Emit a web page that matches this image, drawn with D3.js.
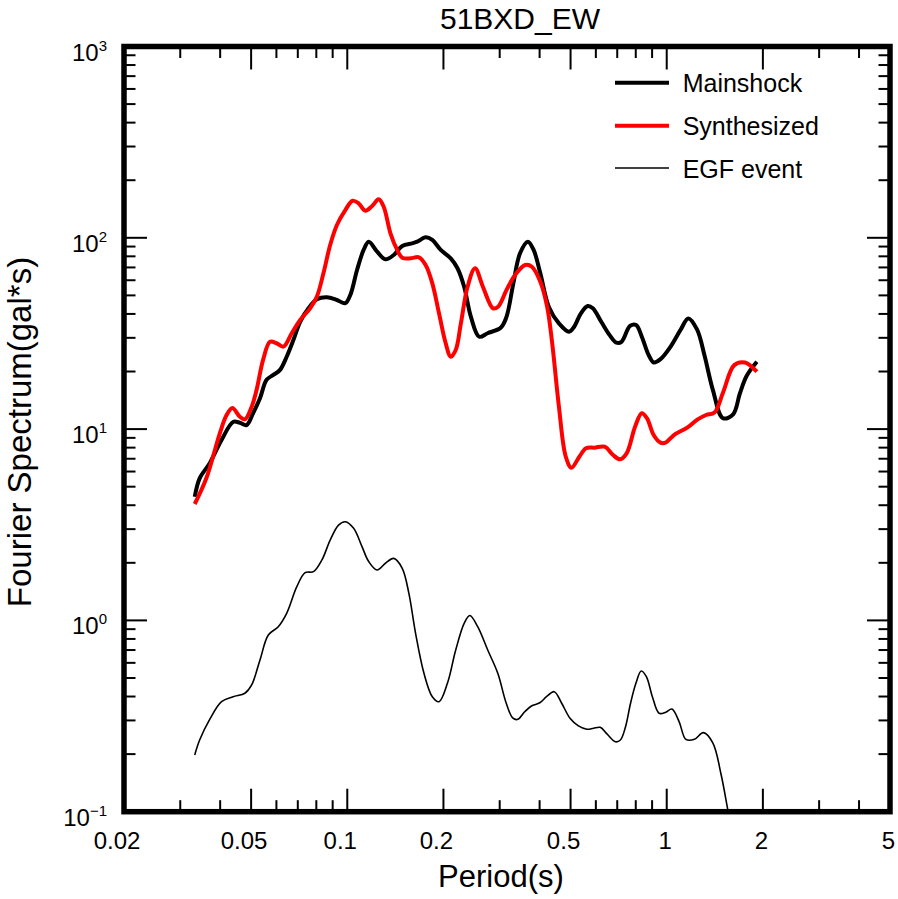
<!DOCTYPE html>
<html>
<head>
<meta charset="utf-8">
<script src="https://cdn.jsdelivr.net/npm/d3@7"></script>
<style>
  html, body { margin: 0; padding: 0; background: #fff; }
  svg text { font-family: "Liberation Sans", Arial, Helvetica, sans-serif; fill: #000; }
</style>
</head>
<body>
<svg id="chart" width="898" height="899"></svg>
<script>
// ---- Data (period in s, amplitude in gal*s) ----
const chartTitle = "51BXD_EW";
const xTickValues = [0.02, 0.05, 0.1, 0.2, 0.5, 1, 2, 5];
const xTickLabels = ["0.02", "0.05", "0.1", "0.2", "0.5", "1", "2", "5"];
const yTickExponents = [-1, 0, 1, 2, 3];
const seriesNames = ["Mainshock", "Synthesized", "EGF event"];

const mainPeriod = [0.0333,0.0345,0.0371,0.0404,0.0439,0.0461,0.0484,0.0507,0.0533,0.0559,0.0587,0.0616,0.0646,0.0678,0.0712,0.0756,0.0803,0.0863,0.0928,0.0986,0.1022,0.1073,0.1125,0.1167,0.124,0.1317,0.1398,0.1486,0.1597,0.1656,0.1759,0.1846,0.1961,0.2108,0.2213,0.2322,0.2437,0.2588,0.275,0.3028,0.3152,0.331,0.3474,0.3676,0.3831,0.4021,0.4273,0.4598,0.4947,0.5132,0.5387,0.566,0.5871,0.6237,0.6627,0.6962,0.722,0.7676,0.802,0.8356,0.8777,0.9101,0.9561,1.0287,1.107,1.168,1.244,1.312,1.395,1.5,1.614,1.695,1.78,1.915];
const mainValue = [4.43,5.53,6.63,8.77,10.9,10.8,10.5,12.1,14.5,18.1,19.2,20.4,23.9,29.2,36.4,42.8,47.7,48.9,47.3,45.5,50.2,67.9,86.4,95.4,84.6,77.2,81.3,90.6,93.6,95.4,100.6,97.4,86.4,78.1,69.3,55.5,38.7,30.4,31.7,34.0,38.7,57.8,83.0,95.4,86.4,65.2,43.6,35.7,32.3,34.3,40.3,44.0,42.8,36.4,31.0,28.3,28.6,34.6,35.0,30.4,24.4,22.3,23.2,27.0,33.2,37.9,33.2,24.4,16.0,11.4,11.95,15.4,19.0,22.5];

const synPeriod = [0.0333,0.0362,0.0399,0.0419,0.0437,0.0461,0.0478,0.0502,0.052,0.0545,0.0573,0.0601,0.0631,0.067,0.0712,0.0765,0.0803,0.0842,0.0884,0.0928,0.0986,0.1039,0.1085,0.1139,0.1196,0.1254,0.13,0.1365,0.1433,0.1486,0.1578,0.1676,0.1759,0.1846,0.1937,0.2033,0.2108,0.2185,0.2268,0.238,0.2512,0.2658,0.2859,0.2965,0.3152,0.3351,0.3605,0.3784,0.4021,0.4224,0.438,0.4598,0.4831,0.5033,0.5325,0.559,0.594,0.6393,0.6794,0.7136,0.749,0.796,0.8356,0.867,0.9101,0.9561,0.9913,1.053,1.162,1.25,1.328,1.411,1.5,1.627,1.758,1.915];
const synValue = [4.06,5.53,9.51,11.85,12.9,11.6,11.25,13.1,16.0,23.0,28.6,28.1,27.0,31.7,37.2,42.8,49.2,65.2,91.7,116.7,139.7,156.3,151.4,138.6,146.6,158.9,145.4,105.6,86.4,78.7,78.1,79.1,72.1,57.8,40.3,28.1,23.9,25.9,35.7,55.5,69.3,55.5,42.8,43.6,53.4,63.9,72.1,70.6,58.9,43.6,28.1,13.1,7.17,6.28,7.17,7.94,8.0,8.09,7.32,6.95,7.47,10.3,12.1,11.4,9.31,8.49,8.49,9.31,10.2,11.25,11.85,12.2,15.5,21.6,22.3,19.95];

const egfPeriod = [0.0333,0.0345,0.0371,0.0404,0.0439,0.0478,0.0502,0.0533,0.0566,0.0608,0.0646,0.0695,0.0738,0.0784,0.0833,0.0884,0.0939,0.0986,0.1047,0.1112,0.1167,0.124,0.1317,0.1398,0.1486,0.1559,0.1636,0.1738,0.1846,0.1937,0.2058,0.2185,0.2322,0.2419,0.256,0.2752,0.2959,0.3145,0.3301,0.3422,0.3592,0.3771,0.4005,0.4204,0.4444,0.469,0.498,0.5291,0.5623,0.59,0.6193,0.65,0.6907,0.7161,0.7431,0.7705,0.8008,0.8321,0.8636,0.9018,0.9465,0.9928,1.038,1.094,1.148,1.221,1.302,1.394,1.481,1.554,1.601];
const egfValue = [0.198,0.237,0.304,0.376,0.399,0.416,0.46,0.621,0.839,0.927,1.089,1.5,1.776,1.798,2.07,2.63,3.15,3.28,3.03,2.43,2.03,1.834,1.99,2.11,1.873,1.385,0.856,0.529,0.399,0.376,0.469,0.7,0.966,1.061,0.927,0.7,0.529,0.369,0.308,0.304,0.333,0.357,0.371,0.399,0.424,0.369,0.308,0.281,0.27,0.273,0.276,0.255,0.232,0.237,0.278,0.369,0.469,0.544,0.508,0.399,0.327,0.331,0.344,0.295,0.239,0.239,0.259,0.229,0.1555,0.102,0.08];

// ---- Layout ----
const svg = d3.select("#chart");
const pL = 124, pR = 890, pT = 46.5, pB = 811.7;
const x = d3.scaleLog().domain([0.02, 5]).range([pL, pR]);
const y = d3.scaleLog().domain([0.1, 1000]).range([pB, pT]);

svg.append("defs").append("clipPath").attr("id", "plotClip")
  .append("rect").attr("x", pL).attr("y", pT).attr("width", pR - pL).attr("height", pB - pT);

// ---- Ticks (inward, on all four sides) ----
const xMinor = [];
for (let d = 0.01; d <= 1; d *= 10) {
  for (let m = 1; m <= 9; m++) {
    const v = +(m * d).toPrecision(3);
    if (v > 0.02 && v < 5 && !xTickValues.includes(v)) xMinor.push(v);
  }
}
const yMinor = [];
for (let e = -1; e < 3; e++) {
  for (let m = 2; m <= 9; m++) yMinor.push(m * Math.pow(10, e));
}
const yMajor = yTickExponents.map(e => Math.pow(10, e));
const majorLen = 23, minorLen = 11.5;
const tickG = svg.append("g").attr("stroke", "#000").attr("stroke-width", 2);
function xTick(v, len) {
  const px = x(v);
  tickG.append("line").attr("x1", px).attr("x2", px).attr("y1", pB).attr("y2", pB - len);
  tickG.append("line").attr("x1", px).attr("x2", px).attr("y1", pT).attr("y2", pT + len);
}
function yTick(v, len) {
  const py = y(v);
  tickG.append("line").attr("y1", py).attr("y2", py).attr("x1", pL).attr("x2", pL + len);
  tickG.append("line").attr("y1", py).attr("y2", py).attr("x1", pR).attr("x2", pR - len);
}
xTickValues.forEach(v => xTick(v, majorLen));
xMinor.forEach(v => xTick(v, minorLen));
yMajor.forEach(v => yTick(v, majorLen));
yMinor.forEach(v => yTick(v, minorLen));

// ---- Curves ----
const line = d3.line().x(d => x(d[0])).y(d => y(d[1])).curve(d3.curveCatmullRom.alpha(0.5));
const plotG = svg.append("g").attr("clip-path", "url(#plotClip)");
const egfData = egfPeriod.map((p, i) => [p, egfValue[i]]);
const mainData = mainPeriod.map((p, i) => [p, mainValue[i]]);
const synData = synPeriod.map((p, i) => [p, synValue[i]]);
plotG.append("path").attr("d", line(egfData)).attr("fill", "none").attr("stroke", "#000").attr("stroke-width", 1.6);
plotG.append("path").attr("d", line(mainData)).attr("fill", "none").attr("stroke", "#000").attr("stroke-width", 4).attr("stroke-linejoin", "round");
plotG.append("path").attr("d", line(synData)).attr("fill", "none").attr("stroke", "#ff0000").attr("stroke-width", 4).attr("stroke-linejoin", "round");

// ---- Frame ----
svg.append("rect").attr("x", pL).attr("y", pT).attr("width", pR - pL).attr("height", pB - pT)
  .attr("fill", "none").attr("stroke", "#000").attr("stroke-width", 5.5).attr("stroke-linejoin", "miter");

// ---- Tick labels ----
xTickValues.forEach((v, i) => {
  const lbl = xTickLabels[i];
  svg.append("text").attr("x", x(v) + (lbl.length > 1 ? -7 : -1.5)).attr("y", 848.5)
    .attr("text-anchor", "middle").attr("font-size", 24).text(lbl);
});
yTickExponents.forEach(e => {
  const t = svg.append("text").attr("x", 107).attr("y", y(Math.pow(10, e)) + 14)
    .attr("text-anchor", "end").attr("font-size", 24);
  t.append("tspan").text("10");
  t.append("tspan").attr("font-size", 15).attr("dy", -10).text(e < 0 ? "\u2212" + Math.abs(e) : String(e));
});

// ---- Titles ----
svg.append("text").attr("x", 520).attr("y", 28.5).attr("text-anchor", "middle").attr("font-size", 30).text(chartTitle);
svg.append("text").attr("x", 501).attr("y", 886.5).attr("text-anchor", "middle").attr("font-size", 31).text("Period(s)");
svg.append("text").attr("transform", "translate(31,432) rotate(-90)").attr("text-anchor", "middle")
  .attr("font-size", 33).text("Fourier Spectrum(gal*s)");

// ---- Legend ----
const legendColors = ["#000", "#ff0000", "#000"];
const legendWidths = [4, 4, 1.6];
const legendY = [82.7, 125.7, 168];
seriesNames.forEach((name, i) => {
  svg.append("line").attr("x1", 615).attr("x2", 669).attr("y1", legendY[i]).attr("y2", legendY[i])
    .attr("stroke", legendColors[i]).attr("stroke-width", legendWidths[i]);
  svg.append("text").attr("x", 682.7).attr("y", legendY[i] + 9.5).attr("font-size", 25).text(name);
});
</script>
</body>
</html>
